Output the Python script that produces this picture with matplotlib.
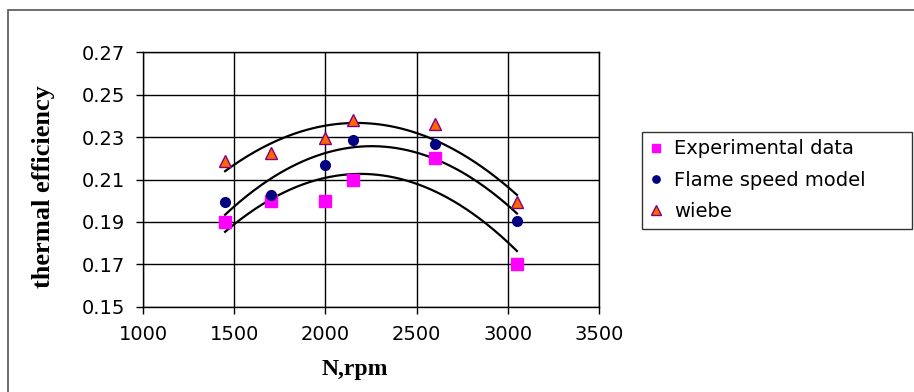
import numpy as np
import matplotlib
matplotlib.use("Agg")
import matplotlib.pyplot as plt
from matplotlib.patches import Rectangle

# Data
rpm = [1450, 1700, 2000, 2150, 2600, 3050]
experimental = [0.190, 0.200, 0.200, 0.210, 0.220, 0.170]
flame_speed = [0.1995, 0.2029, 0.2169, 0.2284, 0.2269, 0.1905]
wiebe = [0.2185, 0.2226, 0.2297, 0.2379, 0.2363, 0.1993]
x_ticks = [1000, 1500, 2000, 2500, 3000, 3500]
y_ticks = [0.15, 0.17, 0.19, 0.21, 0.23, 0.25, 0.27]
series_names = ["Experimental data", "Flame speed model", "wiebe"]

W, H = 914, 392
fig = plt.figure(figsize=(W / 100, H / 100), dpi=100)
fig.patch.set_facecolor("white")

# outer chart border
fig.patches.append(Rectangle((8 / W, -0.1), 1.2, 1 - 10 / H + 0.1, transform=fig.transFigure,
                             fill=False, edgecolor="#555555", linewidth=1.2))

ax = fig.add_axes([143 / W, 1 - 306.7 / H, (599 - 143) / W, (306.7 - 52.3) / H])
ax.set_xlim(1000, 3500)
ax.set_ylim(0.15, 0.27)
ax.set_xticks(x_ticks)
ax.set_yticks(y_ticks)
ax.set_xticklabels([str(v) for v in x_ticks])
ax.set_yticklabels([f"{v:.2f}" for v in y_ticks])
ax.grid(True, color="black", linewidth=1.0)
ax.set_axisbelow(True)
for s in ax.spines.values():
    s.set_color("black")
    s.set_linewidth(1.0)
ax.tick_params(direction="out", length=5, width=1, colors="black", labelsize=14, pad=8)
for lab in ax.get_xticklabels() + ax.get_yticklabels():
    lab.set_fontfamily("DejaVu Sans")

xs = np.array(rpm, dtype=float)
xx = np.linspace(min(rpm), max(rpm), 200)
for ys in (experimental, flame_speed, wiebe):
    c = np.polyfit(xs, np.array(ys), 2)
    ax.plot(xx, np.polyval(c, xx), color="black", linewidth=1.6, zorder=3)

h1, = ax.plot(rpm, experimental, linestyle="none", marker="s", markersize=8,
              markerfacecolor="#FF00FF", markeredgecolor="#FF00FF", zorder=4)
h2, = ax.plot(rpm, flame_speed, linestyle="none", marker="o", markersize=7,
              markerfacecolor="#000080", markeredgecolor="#000080", zorder=4)
h3, = ax.plot(rpm, wiebe, linestyle="none", marker="^", markersize=9,
              markerfacecolor="#FF6600", markeredgecolor="#800080", markeredgewidth=1.0, zorder=5)

ax.set_ylabel("thermal efficiency", fontfamily="Liberation Serif", fontweight="bold",
              fontsize=19)
ax.yaxis.label.set_va("center")
ax.yaxis.set_label_coords((43.5 - 143) / (599 - 143), (306.7 - 186.5) / (306.7 - 52.3))
ax.set_xlabel("N,rpm", fontfamily="Liberation Serif", fontweight="bold", fontsize=17)
ax.xaxis.label.set_va("baseline")
ax.xaxis.set_label_coords((355 - 143) / (599 - 143), -(375 - 306.7) / (306.7 - 52.3))

leg = fig.legend([h1, h2, h3], series_names, loc="upper left",
                 bbox_to_anchor=(642 / W, 1 - 228 / H, 270 / W, 96.3 / H), mode="expand",
                 borderaxespad=0, frameon=True, fancybox=False,
                 edgecolor="black", prop={"family": "DejaVu Sans", "size": 14},
                 handlelength=0.6, handletextpad=0.64, borderpad=0.4, labelspacing=0.63,
                 markerscale=0.75)
leg.get_frame().set_linewidth(1.0)

fig.savefig("out.png", dpi=100)
